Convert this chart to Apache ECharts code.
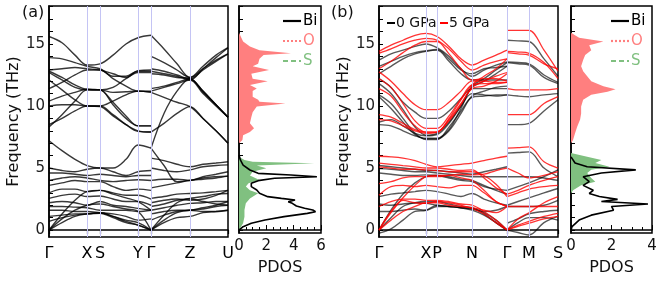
<!DOCTYPE html>
<html><head><meta charset="utf-8">
<script src="https://cdn.jsdelivr.net/npm/echarts@6/dist/echarts.min.js"></script>
<style>html,body{margin:0;padding:0;background:#fff}#c{width:664px;height:285px}</style>
</head><body><div id="c"></div>
<script>
const FONT = 'DejaVu Sans';
// ---------- Panel (a) ----------
const symPosA = [0, 38, 51, 89, 102, 141, 179];
const symLabA = ['Γ', 'X', 'S', 'Y', 'Γ', 'Z', 'U'];
const kA1 = [0, 13, 26, 38, 51, 64, 77, 89, 102];
const kA2 = [102, 115, 128, 141, 154, 167, 179];
const bandsA1 = [
  [15.6, 15.1, 14.1, 13.3, 13.4, 14.1, 15.0, 15.5, 15.7],
  [13.9, 13.8, 13.5, 13.2, 13.0, 12.4, 12.4, 12.85, 12.9],
  [12.9, 13.0, 13.1, 13.0, 12.9, 12.6, 12.3, 12.8, 12.8],
  [12.8, 12.3, 11.7, 11.35, 11.3, 11.5, 12.2, 12.7, 12.7],
  [12.7, 12.1, 11.5, 11.3, 11.3, 11.1, 11.15, 11.2, 11.15],
  [12.1, 11.3, 10.5, 10.0, 10.0, 10.4, 10.9, 11.2, 11.1],
  [11.4, 11.9, 12.5, 12.9, 12.9, 12.2, 11.6, 11.2, 11.2],
  [10.4, 10.8, 11.1, 11.35, 11.3, 10.3, 9.2, 8.4, 8.4],
  [10.0, 10.1, 10.1, 10.0, 10.0, 9.3, 8.5, 7.95, 7.9],
  [8.5, 9.0, 9.6, 10.0, 9.95, 9.2, 8.5, 8.0, 7.9],
  [8.3, 9.3, 10.4, 11.3, 11.3, 10.1, 9.0, 8.4, 8.4],
  [7.2, 6.4, 5.7, 5.2, 5.0, 5.0, 5.7, 6.85, 6.6],
  [5.0, 4.8, 4.7, 4.9, 5.0, 4.7, 4.4, 4.7, 4.8],
  [4.6, 4.6, 4.5, 4.4, 4.5, 4.4, 4.3, 4.4, 4.4],
  [4.0, 4.2, 4.3, 4.2, 4.0, 3.9, 4.0, 4.05, 4.0],
  [3.6, 3.8, 4.0, 3.9, 3.9, 3.5, 3.2, 3.3, 3.2],
  [3.0, 3.3, 3.3, 3.1, 3.2, 3.0, 2.8, 2.8, 2.5],
  [2.55, 2.8, 2.9, 2.7, 2.75, 2.5, 2.3, 2.3, 2.0],
  [2.2, 2.3, 2.2, 2.0, 2.3, 2.0, 1.9, 1.75, 1.6],
  [1.9, 1.9, 1.85, 1.8, 1.6, 1.6, 1.6, 1.5, 1.6],
  [1.6, 1.6, 1.5, 1.5, 1.4, 1.3, 1.1, 0.8, 0.9],
  [1.1, 1.2, 1.3, 1.3, 1.4, 1.1, 0.7, 0.4, 0.0],
  [0.7, 1.0, 1.2, 1.3, 1.35, 1.0, 0.6, 0.4, 0.0],
  [0.0, 0.6, 1.1, 1.3, 1.4, 1.1, 0.8, 0.6, 0.0],
  [0.0, 0.9, 1.6, 2.0, 2.1, 1.9, 1.7, 1.5, 0.0],
  [0.0, 1.3, 2.4, 3.1, 3.2, 2.9, 2.6, 2.3, 1.6]
];
const bandsA2 = [
  [15.7, 14.6, 13.4, 12.3, 13.2, 14.1, 14.7],
  [14.0, 13.5, 12.9, 12.3, 13.0, 13.7, 14.2],
  [13.0, 12.8, 12.5, 12.2, 12.9, 13.6, 14.2],
  [12.8, 12.6, 12.4, 12.1, 13.0, 13.9, 14.7],
  [12.6, 12.5, 12.3, 12.2, 11.2, 10.1, 9.1],
  [11.4, 11.6, 11.9, 12.2, 11.1, 10.1, 9.1],
  [11.2, 11.5, 11.8, 12.1, 11.0, 10.0, 9.1],
  [11.1, 10.7, 10.3, 9.95, 9.0, 8.0, 7.0],
  [7.9, 8.6, 9.4, 9.95, 9.0, 8.0, 7.0],
  [6.6, 9.4, 11.2, 12.2, 11.2, 10.1, 9.1],
  [5.8, 5.6, 5.3, 5.1, 5.3, 5.4, 5.5],
  [6.6, 5.2, 3.9, 4.0, 4.2, 4.3, 4.35],
  [5.0, 4.8, 4.7, 4.85, 5.1, 5.2, 5.25],
  [4.0, 4.1, 4.1, 4.0, 4.3, 4.5, 4.7],
  [3.4, 3.6, 3.8, 4.0, 4.1, 4.2, 4.35],
  [2.55, 2.7, 2.9, 2.95, 3.0, 3.1, 3.2],
  [1.9, 2.1, 2.4, 2.55, 2.7, 2.9, 2.95],
  [1.6, 1.8, 2.0, 2.15, 2.2, 2.3, 2.3],
  [1.3, 1.5, 1.6, 1.6, 1.7, 1.9, 2.0],
  [0.0, 0.8, 1.4, 1.6, 1.5, 1.5, 1.6],
  [0.0, 0.6, 1.0, 1.1, 1.4, 1.5, 1.6],
  [0.0, 1.2, 2.2, 2.5, 2.3, 2.1, 2.0],
  [0.8, 1.2, 1.5, 1.6, 1.8, 2.0, 2.3],
  [2.2, 2.4, 2.5, 2.4, 2.5, 2.8, 3.2]
];
// ---------- Panel (b) ----------
const symPosB = [0, 47, 58, 93, 128, 150, 179];
const symLabB = ['Γ', 'X', 'P', 'N', 'Γ', 'M', 'S'];
const kB1 = [0, 12, 24, 36, 47, 58, 70, 82, 93, 105, 117, 128];
const kB2 = [128, 139, 150, 165, 179];
const black0B1 = [
  [13.7, 14.2, 14.5, 14.8, 15.0, 14.7, 14.0, 13.0, 12.4, 12.9, 13.3, 13.55],
  [13.2, 13.6, 14.0, 14.3, 14.45, 14.55, 13.8, 12.9, 12.6, 13.0, 13.1, 13.2],
  [12.6, 13.2, 13.8, 14.2, 14.4, 14.5, 13.6, 12.6, 12.1, 12.1, 12.1, 12.1],
  [12.2, 11.5, 10.3, 9.5, 9.0, 9.0, 9.6, 10.6, 11.4, 11.4, 11.4, 11.4],
  [11.8, 11.0, 9.7, 8.3, 7.65, 7.8, 8.7, 10.0, 11.0, 10.9, 10.8, 10.9],
  [10.9, 10.2, 9.0, 7.8, 7.3, 7.3, 8.3, 9.6, 10.7, 10.8, 10.9, 10.9],
  [10.75, 9.8, 8.7, 7.7, 7.35, 7.35, 8.0, 9.4, 10.8, 11.2, 11.5, 11.6],
  [8.7, 8.9, 8.4, 7.8, 7.6, 7.7, 8.6, 10.0, 11.5, 12.0, 12.6, 13.2],
  [8.5, 8.4, 8.0, 7.6, 7.4, 7.4, 8.1, 9.8, 11.6, 12.2, 12.9, 13.5],
  [5.2, 5.1, 5.0, 4.9, 4.8, 4.8, 4.7, 4.6, 4.5, 4.7, 4.9, 5.1],
  [4.95, 4.9, 4.8, 4.7, 4.7, 4.6, 4.5, 4.4, 4.3, 4.3, 4.3, 4.3],
  [4.6, 4.5, 4.4, 4.4, 4.45, 4.4, 4.2, 4.0, 3.9, 3.5, 3.3, 3.2],
  [2.7, 2.9, 3.0, 3.1, 3.2, 3.1, 2.9, 2.7, 2.95, 2.5, 2.2, 2.0],
  [2.1, 2.0, 2.1, 2.2, 2.15, 2.0, 1.9, 1.8, 1.75, 1.3, 0.6, 0.0],
  [1.5, 1.5, 1.6, 1.7, 1.6, 1.9, 1.9, 1.8, 1.6, 1.2, 0.6, 0.0],
  [0.0, 1.0, 1.9, 2.2, 2.3, 2.3, 2.1, 1.9, 1.8, 1.4, 0.8, 0.0],
  [-0.25, 0.1, 0.8, 1.5, 1.6, 2.0, 1.9, 1.8, 1.7, 1.5, 1.6, 1.9],
  [0.0, 1.6, 2.9, 3.8, 4.3, 4.4, 4.3, 4.1, 4.0, 3.6, 3.2, 2.9]
];
const red5B1 = [
  [14.4, 14.9, 15.3, 15.7, 15.85, 15.6, 14.8, 13.8, 13.3, 13.7, 14.1, 14.5],
  [14.25, 14.6, 15.0, 15.3, 15.45, 15.3, 14.6, 13.6, 12.9, 13.3, 13.6, 13.8],
  [13.0, 13.6, 14.3, 14.9, 15.2, 15.2, 14.2, 13.0, 12.1, 12.2, 12.2, 12.0],
  [12.75, 12.0, 11.0, 10.1, 9.7, 9.7, 10.3, 11.2, 12.0, 12.0, 11.9, 11.9],
  [12.2, 11.5, 10.2, 8.8, 8.2, 8.2, 9.2, 10.6, 11.7, 11.8, 11.8, 11.9],
  [11.4, 10.8, 9.5, 8.4, 7.9, 7.9, 8.9, 10.2, 11.4, 11.6, 12.0, 12.6],
  [9.3, 9.1, 8.6, 8.1, 7.9, 7.9, 9.0, 10.5, 11.7, 12.4, 13.0, 13.8],
  [8.9, 8.8, 8.4, 8.0, 7.8, 7.9, 8.8, 10.1, 11.5, 12.0, 12.4, 12.7],
  [5.95, 5.9, 5.8, 5.6, 5.3, 5.1, 5.2, 5.3, 5.4, 5.6, 5.8, 5.95],
  [5.4, 5.3, 5.2, 5.1, 5.0, 5.0, 4.9, 4.8, 4.85, 4.2, 3.4, 2.9],
  [5.1, 5.0, 4.9, 4.9, 4.85, 4.8, 4.7, 4.7, 4.7, 4.4, 3.7, 2.7],
  [3.75, 3.9, 4.2, 4.3, 4.3, 4.3, 4.4, 4.5, 4.45, 4.5, 4.8, 5.0],
  [2.8, 3.5, 3.6, 3.5, 3.6, 3.5, 3.4, 3.6, 3.6, 3.0, 2.3, 1.9],
  [1.9, 2.3, 2.5, 2.5, 2.4, 2.4, 2.3, 2.1, 2.0, 1.5, 0.8, 0.0],
  [0.0, 1.5, 2.4, 2.2, 2.15, 2.3, 2.2, 2.0, 1.75, 1.3, 0.6, 0.0],
  [0.0, 1.4, 2.6, 3.6, 4.3, 4.4, 4.4, 4.2, 4.0, 3.2, 2.3, 1.9],
  [0.0, 0.8, 1.5, 1.9, 2.2, 2.2, 2.0, 1.9, 1.8, 1.6, 1.4, 1.9]
];
const black0B2 = [
  [15.3, 15.25, 15.2, 13.8, 12.4],
  [13.55, 13.5, 13.4, 12.5, 11.9],
  [13.5, 13.4, 13.3, 12.3, 11.8],
  [10.9, 10.8, 10.75, 10.9, 11.0],
  [8.5, 8.5, 8.6, 9.6, 10.5],
  [6.2, 6.25, 6.3, 5.0, 4.3],
  [4.3, 4.3, 4.3, 4.2, 4.0],
  [3.2, 3.5, 3.8, 4.3, 4.85],
  [2.0, 2.3, 2.6, 3.0, 3.35],
  [1.9, 1.9, 1.9, 2.0, 2.4],
  [0.55, 0.9, 1.3, 1.5, 1.6],
  [0.0, -0.2, -0.4, 0.6, 1.1],
  [0.0, 0.6, 1.0, 1.0, 0.8]
];
const red5B2 = [
  [16.1, 16.1, 16.1, 14.5, 12.8],
  [14.4, 14.35, 14.25, 13.5, 12.2],
  [14.3, 14.2, 14.1, 13.4, 13.0],
  [11.4, 11.3, 11.3, 11.3, 11.4],
  [9.3, 9.3, 9.3, 10.2, 10.75],
  [6.6, 6.65, 6.7, 5.5, 5.0],
  [5.0, 4.6, 4.2, 4.4, 4.7],
  [2.9, 3.2, 3.6, 4.0, 4.3],
  [2.7, 3.0, 3.3, 3.5, 3.6],
  [1.9, 1.9, 1.9, 1.9, 1.9],
  [0.0, 0.4, 0.7, 1.1, 1.35],
  [0.0, 0.9, 1.4, 2.2, 2.7],
  [0.0, 0.3, 0.55, 0.9, 1.1]
];
// ---------- PDOS ----------
const freqBiA = [0, 0.27, 0.54, 0.81, 1.08, 1.34, 1.48, 1.61, 1.75, 1.94, 2.15, 2.28, 2.42, 2.55, 2.69, 2.96, 3.23, 3.5, 3.77, 3.98, 4.17, 4.3, 4.44, 4.57, 4.84, 5.24, 5.65, 6.05];
const dosBiA  = [0, 0.3, 0.9, 1.9, 3.3, 5.0, 5.6, 5.4, 4.8, 4.2, 3.9, 3.6, 4.1, 3.1, 2.1, 1.5, 1.3, 0.9, 0.9, 1.4, 2.6, 5.7, 3.8, 1.4, 0.8, 0.3, 0.1, 0];
const freqOA = [7.0, 7.25, 7.65, 7.9, 8.2, 8.6, 9.1, 9.5, 9.95, 10.2, 10.35, 10.5, 10.75, 11.2, 11.4, 11.7, 12.0, 12.2, 12.6, 12.9, 13.2, 13.4, 13.8, 14.1, 14.25, 14.5, 14.8, 15.2, 15.9];
const dosOA  = [0, 0.25, 0.3, 0.8, 1.1, 0.8, 0.9, 1.0, 1.3, 3.4, 1.5, 1.4, 1.0, 1.0, 1.3, 0.8, 2.1, 1.0, 0.9, 2.2, 1.0, 1.4, 1.5, 1.8, 3.8, 1.5, 0.8, 0.3, 0];
const freqSA = [0, 0.54, 1.08, 1.61, 2.15, 2.55, 2.96, 3.2, 3.5, 3.77, 4.03, 4.4, 4.7, 4.97, 5.2, 5.38, 5.5, 5.65, 5.9];
const dosSA  = [0, 0.3, 0.4, 0.4, 0.5, 0.8, 1.4, 0.8, 0.5, 0.7, 1.5, 0.8, 1.0, 2.0, 1.3, 5.5, 1.0, 0.4, 0];
const freqBiB = [0, 0.27, 0.8, 1.2, 1.6, 1.9, 2.1, 2.3, 2.47, 2.7, 2.95, 3.2, 3.6, 3.9, 4.3, 4.6, 4.85, 5.1, 5.4, 5.9];
const dosBiB  = [0, 0.05, 0.4, 1.0, 2.1, 2.0, 3.8, 1.5, 2.3, 1.4, 0.9, 1.1, 0.6, 0.9, 0.6, 1.5, 3.2, 0.8, 0.2, 0];
const freqOB = [7.0, 7.25, 7.8, 8.3, 8.9, 9.4, 9.95, 10.5, 10.9, 11.15, 11.35, 11.6, 12.0, 12.4, 12.8, 13.2, 13.7, 14.1, 14.5, 14.9, 15.2, 15.5, 15.9];
const dosOB  = [0, 0.1, 0.2, 0.3, 0.45, 0.5, 0.5, 0.6, 1.0, 1.8, 2.2, 1.6, 1.0, 0.8, 0.6, 0.5, 0.6, 0.7, 1.0, 0.9, 1.6, 0.4, 0];
const freqSB = [2.95, 3.2, 3.6, 3.9, 4.2, 4.6, 4.85, 5.1, 5.4, 5.65, 5.9, 6.2];
const dosSB  = [0, 0.1, 0.5, 1.2, 1.0, 0.8, 1.0, 1.9, 1.2, 1.5, 0.8, 0];

const ints = Array.from({length: 19}, (_, i) => i);
const BAND_MIN = -0.56, BAND_MAX = 18.06, DOS_MIN = -0.24;
const symLine = '#c4c4f4';

function bandX(g, pos, lab) {
  return {
    type: 'value', gridIndex: g, min: 0, max: 179,
    axisLine: {show: true, lineStyle: {color: '#000', width: 1.5}},
    axisTick: {show: true, customValues: pos, length: 4, inside: false, lineStyle: {color: '#000', width: 1.2}},
    axisLabel: {show: true, customValues: pos, formatter: v => lab[pos.indexOf(v)] || '', fontFamily: FONT, fontSize: 16, color: '#000', margin: 9},
    splitLine: {show: false}
  };
}
function bandY(g) {
  return {
    type: 'value', gridIndex: g, min: BAND_MIN, max: BAND_MAX,
    axisLine: {show: true, lineStyle: {color: '#000', width: 1.5}},
    axisTick: {show: true, customValues: ints, length: 4, inside: true, lineStyle: {color: '#000', width: 1}},
    axisLabel: {show: true, customValues: [0, 5, 10, 15], fontFamily: FONT, fontSize: 15, color: '#222', margin: 4},
    splitLine: {show: false},
    name: 'Frequency (THz)', nameLocation: 'middle', nameGap: 26, nameRotate: 90,
    nameTextStyle: {fontFamily: FONT, fontSize: 16, color: '#111'}
  };
}
function dosX(g, max) {
  return {
    type: 'value', gridIndex: g, min: 0, max: max, interval: 2,
    axisLine: {show: true, lineStyle: {color: '#000', width: 1.5}},
    axisTick: {show: true, inside: true, length: 5, lineStyle: {color: '#000'}},
    minorTick: {show: true, splitNumber: 4, length: 3, lineStyle: {color: '#000'}},
    axisLabel: {fontFamily: FONT, fontSize: 15, color: '#111', margin: 6},
    splitLine: {show: false},
    name: 'PDOS', nameLocation: 'middle', nameGap: 27,
    nameTextStyle: {fontFamily: FONT, fontSize: 16, color: '#111'}
  };
}
function dosY(g) {
  return {
    type: 'value', gridIndex: g, min: DOS_MIN, max: BAND_MAX,
    axisLine: {show: true, lineStyle: {color: '#000', width: 1.5}},
    axisTick: {show: true, customValues: ints, length: 4, inside: true, lineStyle: {color: '#000'}},
    axisLabel: {show: false}, splitLine: {show: false}
  };
}
const series = [];
function symSeries(g, pos) {
  series.push({
    type: 'line', xAxisIndex: g, yAxisIndex: g, data: [], z: 1, silent: true,
    markLine: {silent: true, symbol: 'none', animation: false, label: {show: false},
      lineStyle: {color: symLine, width: 1, type: 'solid'},
      data: pos.slice(1, -1).map(p => ({xAxis: p}))}
  });
}
function addBands(g, ks, bands, color, width) {
  bands.forEach(b => {
    series.push({
      type: 'line', xAxisIndex: g, yAxisIndex: g, smooth: 0.35, showSymbol: false, silent: true,
      z: 3, clip: true,
      lineStyle: {color: color, width: width},
      data: ks.map((k, i) => [k, b[i]])
    });
  });
}
function addFill(g, freqs, vals, color) {
  const data = freqs.map((f, i) => [vals[i], f]);
  series.push({
    type: 'custom', xAxisIndex: g, yAxisIndex: g, data: data, silent: true, z: 2,
    renderItem: (params, api) => {
      if (params.dataIndex !== 0) return null;
      const pts = data.map(d => api.coord(d));
      pts.unshift(api.coord([0, data[0][1]]));
      pts.push(api.coord([0, data[data.length - 1][1]]));
      return {type: 'polygon', shape: {points: pts}, style: {fill: color}};
    }
  });
}
function addDosLine(g, freqs, vals) {
  series.push({
    type: 'line', xAxisIndex: g, yAxisIndex: g, showSymbol: false, silent: true, z: 4,
    lineStyle: {color: '#000', width: 1.6},
    data: freqs.map((f, i) => [vals[i], f])
  });
}
symSeries(0, symPosA);
addBands(0, kA1, bandsA1, 'rgba(0,0,0,0.78)', 1.4);
addBands(0, kA2, bandsA2, 'rgba(0,0,0,0.78)', 1.4);
addFill(1, freqOA, dosOA, '#ff7f7f');
addFill(1, freqSA, dosSA, '#80c080');
addDosLine(1, freqBiA, dosBiA);
symSeries(2, symPosB);
addBands(2, kB1, black0B1, 'rgba(0,0,0,0.65)', 1.4);
addBands(2, kB2, black0B2, 'rgba(0,0,0,0.65)', 1.4);
addBands(2, kB1, red5B1, 'rgba(255,0,0,0.8)', 1.3);
addBands(2, kB2, red5B2, 'rgba(255,0,0,0.8)', 1.3);
addFill(3, freqOB, dosOB, '#ff7f7f');
addFill(3, freqSB, dosSB, '#80c080');
addDosLine(3, freqBiB, dosBiB);

function legendItems(x0, label, y, color, dash, txtColor) {
  return [
    {type: 'line', shape: {x1: x0, y1: y, x2: x0 + 18, y2: y}, style: {stroke: color, lineWidth: 2.2, lineDash: dash}},
    {type: 'text', x: x0 + 20, y: y, style: {text: label, fill: txtColor, font: '15px "DejaVu Sans"', verticalAlign: 'middle'}}
  ];
}
const graphics = [
  {type: 'text', x: 22, y: 13, style: {text: '(a)', fill: '#111', font: '16px "DejaVu Sans"', verticalAlign: 'middle'}},
  {type: 'text', x: 331, y: 13, style: {text: '(b)', fill: '#111', font: '16px "DejaVu Sans"', verticalAlign: 'middle'}},
  ...legendItems(283, 'Bi', 21, '#000', null, '#000'),
  ...legendItems(283, 'O', 41, '#ff7f7f', [2, 2], '#ff7f7f'),
  ...legendItems(283, 'S', 61, '#80c080', [5, 3], '#80c080'),
  ...legendItems(611, 'Bi', 21, '#000', null, '#000'),
  ...legendItems(611, 'O', 41, '#ff7f7f', [2, 2], '#ff7f7f'),
  ...legendItems(611, 'S', 61, '#80c080', [5, 3], '#80c080'),
  {type: 'line', shape: {x1: 387, y1: 23, x2: 395, y2: 23}, style: {stroke: '#000', lineWidth: 2}},
  {type: 'text', x: 396, y: 23, style: {text: '0 GPa', fill: '#111', font: '14px "DejaVu Sans"', verticalAlign: 'middle'}},
  {type: 'line', shape: {x1: 440, y1: 23, x2: 448, y2: 23}, style: {stroke: '#f00', lineWidth: 2}},
  {type: 'text', x: 449, y: 23, style: {text: '5 GPa', fill: '#111', font: '14px "DejaVu Sans"', verticalAlign: 'middle'}}
];

const chart = echarts.init(document.getElementById('c'), null, {renderer: 'canvas'});
chart.setOption({
  animation: false,
  backgroundColor: '#fff',
  textStyle: {fontFamily: FONT},
  grid: [
    {left: 49, top: 6, width: 179, height: 231, show: true, borderColor: '#000', borderWidth: 1.5, containLabel: false},
    {left: 239, top: 6, width: 82, height: 227, show: true, borderColor: '#000', borderWidth: 1.5, containLabel: false},
    {left: 379, top: 6, width: 179, height: 231, show: true, borderColor: '#000', borderWidth: 1.5, containLabel: false},
    {left: 571, top: 6, width: 81, height: 227, show: true, borderColor: '#000', borderWidth: 1.5, containLabel: false}
  ],
  xAxis: [bandX(0, symPosA, symLabA), dosX(1, 6), bandX(2, symPosB, symLabB), dosX(3, 4)],
  yAxis: [bandY(0), dosY(1), bandY(2), dosY(3)],
  series: series,
  graphic: graphics
});
</script></body></html>
